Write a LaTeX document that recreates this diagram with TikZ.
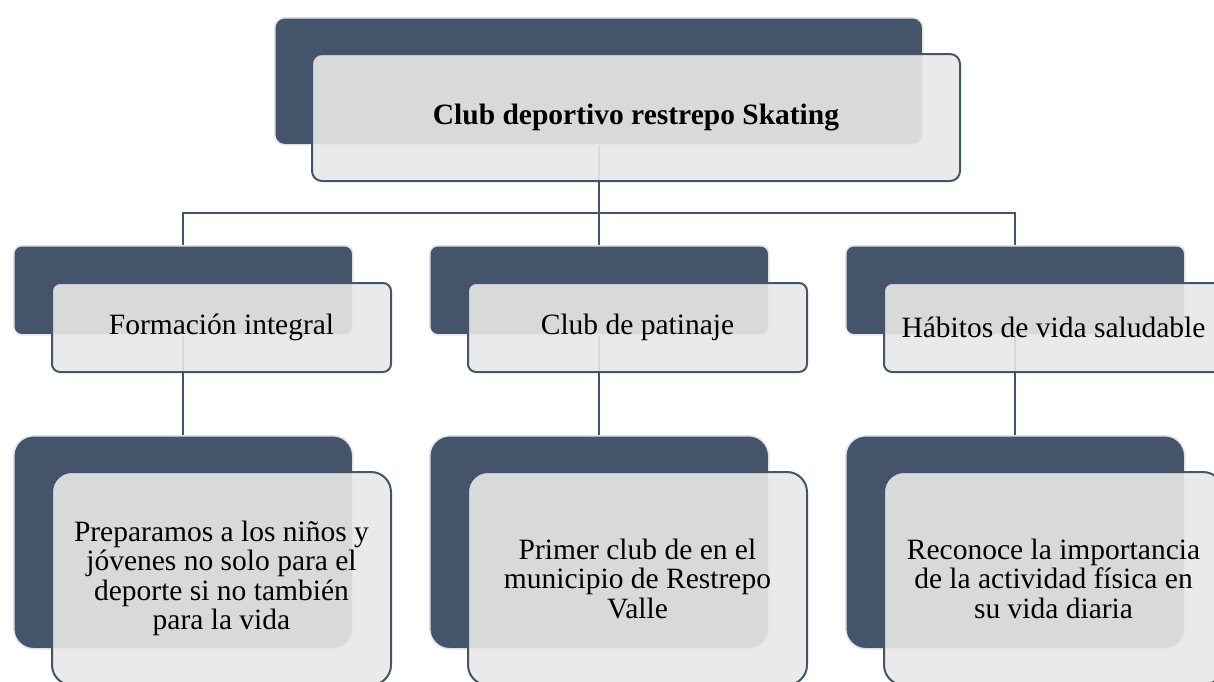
\documentclass[tikz,border=0pt]{standalone}
\usepackage{fontspec}
\setmainfont{Liberation Serif}
\definecolor{slate}{HTML}{44546A}
\definecolor{paper}{HTML}{E8E8E8}
\begin{document}
\begin{tikzpicture}
[
x=0.5pt,y=-0.5pt,
back/.style={draw=gray!22,line width=0.75pt,fill=slate,anchor=north west},
front/.style={draw=slate,line width=1pt,fill=paper,fill opacity=0.9,text opacity=1,anchor=north west,align=center,font=\fontsize{14.75}{14.75}\selectfont},
wide/.style={minimum width=324pt,minimum height=63.5pt,rounded corners=5pt},
mid/.style={minimum width=169.5pt,minimum height=44.5pt,rounded corners=4pt},
low/.style={minimum width=169.5pt,minimum height=106.5pt,rounded corners=10pt},
link/.style={draw=slate,line width=1pt}
]
\useasboundingbox (0,0) rectangle (1214,681);
\clip (0,0) rectangle (1214,681);
  \node[back,wide] (rootback) at (274,17) {};
  \node[back,mid] (formback) at (13,245) {};
  \node[back,mid] (clubback) at (429,245) {};
  \node[back,mid] (habback) at (845,245) {};
  \node[back,low] (prepback) at (13,435) {};
  \node[back,low] (primback) at (429,435) {};
  \node[back,low] (recback) at (845,435) {};

  \coordinate (split) at (rootback.south |- 0,213);
  \draw[link] (rootback.south) -- (split) -| (formback.north);
  \draw[link] (split) -| (clubback.north);
  \draw[link] (split) -| (habback.north);
  \draw[link] (formback) -- (prepback);
  \draw[link] (clubback) -- (primback);
  \draw[link] (habback) -- (recback);

  \node[front,wide] (root) at ([shift={(37,36)}]rootback.north west) {\textbf{Club deportivo restrepo Skating}};
  \node[front,mid] (form) at ([shift={(38,37)}]formback.north west) {Formación integral};
  \node[front,mid] (club) at ([shift={(38,37)}]clubback.north west) {Club de patinaje};
  \node[front,mid] (hab) at ([shift={(38,37)}]habback.north west) {Hábitos de vida saludable};
  \node[front,low] (prep) at ([shift={(38,36)}]prepback.north west) {Preparamos a los niños y\\jóvenes no solo para el\\deporte si no también\\para la vida};
  \node[front,low] (prim) at ([shift={(38,36)}]primback.north west) {Primer club de en el\\municipio de Restrepo\\Valle};
  \node[front,low] (rec) at ([shift={(38,36)}]recback.north west) {Reconoce la importancia\\de la actividad física en\\su vida diaria};
\end{tikzpicture}
\end{document}
